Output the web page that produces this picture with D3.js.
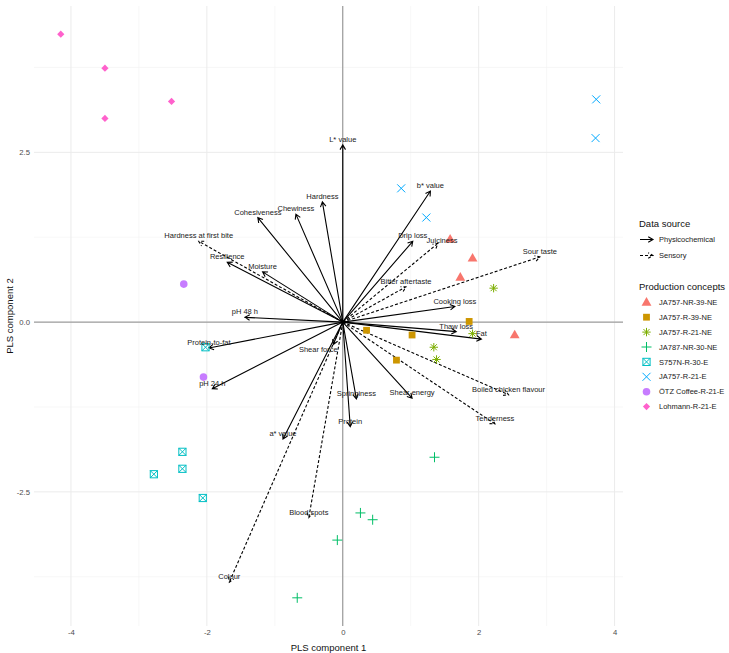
<!DOCTYPE html>
<html>
<head>
<meta charset="utf-8">
<script src="https://cdn.jsdelivr.net/npm/d3@7"></script>
<style>
  body { margin: 0; background: #fff; }
  svg text { font-family: "Liberation Sans", Arial, Helvetica, sans-serif; }
</style>
</head>
<body>
<div id="chart"></div>
<script>
// scores (production concepts)
const concepts = ["JA757-NR-39-NE", "JA757-R-39-NE", "JA757-R-21-NE", "JA787-NR-30-NE",
    "S757N-R-30-E", "JA757-R-21-E", "ÖTZ Coffee-R-21-E", "Lohmann-R-21-E"];
const conceptColours = ["#F8766D", "#CD9600", "#7CAE00", "#00BE67", "#00BFC4", "#00A9FF", "#C77CFF", "#FF61CC"];

const scoreGroup = [0, 0, 0, 0, 1, 1, 1, 1, 2, 2, 2, 2, 3, 3, 3, 3, 3,
    4, 4, 4, 4, 4, 5, 5, 5, 5, 6, 6, 7, 7, 7, 7];
const scoreX = [1.58, 1.91, 1.73, 2.53, 1.86, 1.02, 0.35, 0.79, 2.22, 1.91, 1.34, 1.38,
    1.35, 0.26, 0.44, -0.08, -0.67,
    -2.02, -2.36, -2.36, -2.78, -2.06, 0.86, 1.23, 3.73, 3.72, -2.34, -2.05,
    -4.15, -3.50, -2.52, -3.50];
const scoreY = [1.22, 0.94, 0.66, -0.19, 0.01, -0.19, -0.12, -0.56, 0.50, -0.17, -0.37, -0.55,
    -1.99, -2.81, -2.91, -3.21, -4.06,
    -0.37, -1.91, -2.16, -2.24, -2.59, 1.97, 1.54, 3.28, 2.71, 0.56, -0.81,
    4.24, 3.74, 3.25, 3.00];

// loadings (variables)
const sources = ["Physicochemical", "Sensory"];
const loadingName = ["L* value", "b* value", "Hardness", "Chewiness", "Cohesiveness", "Resilience",
    "Moisture", "pH 48 h", "Protein-to-fat", "pH 24 h", "Shear force", "Springiness", "Protein",
    "Shear energy", "Fat", "Thaw loss", "Cooking loss", "Drip loss", "a* value",
    "Hardness at first bite", "Juiciness", "Bitter aftertaste", "Sour taste",
    "Boiled chicken flavour", "Tenderness", "Blood spots", "Colour"];
const loadingX = [0.00, 1.29, -0.30, -0.69, -1.25, -1.70, -1.18, -1.44, -1.97, -1.92, -0.14, 0.20, 0.11,
    1.02, 2.04, 1.67, 1.65, 1.03, -0.88,
    -2.12, 1.40, 0.93, 2.90, 2.44, 2.24, -0.50, -1.67];
const loadingY = [2.61, 1.93, 1.77, 1.59, 1.54, 0.88, 0.74, 0.07, -0.38, -0.98, -0.33, -1.13, -1.54,
    -1.12, -0.25, -0.14, 0.23, 1.19, -1.72,
    1.19, 1.16, 0.52, 0.96, -1.07, -1.50, -2.88, -3.83];
const loadingSource = [0, 0, 0, 0, 0, 0, 0, 0, 0, 0, 0, 0, 0, 0, 0, 0, 0, 0, 0,
    1, 1, 1, 1, 1, 1, 1, 1];
const labelNudge = {"Shear force": [-0.22, -0.15], "Juiciness": [0.06, -0.03]};

const xTicks = [-4, -2, 0, 2, 4];
const xTickLabels = ["-4", "-2", "0", "2", "4"];
const yTicks = [-2.5, 0, 2.5];
const yTickLabels = ["-2.5", "0.0", "2.5"];

class PlsBiplot {

    constructor() {
        this.width = 729;
        this.height = 653;
        this.panel = {left: 34, right: 623, top: 6, bottom: 626};
        this.svg = d3.select('#chart')
            .append('svg')
            .attr('width', this.width)
            .attr('height', this.height);
        this.x = this.createScale(scoreX.concat(loadingX), [this.panel.left, this.panel.right]);
        this.y = this.createScale(scoreY.concat(loadingY), [this.panel.bottom, this.panel.top]);
    }

    // ggplot style 5% expansion
    createScale(values, range) {
        let ext = d3.extent(values);
        let pad = (ext[1] - ext[0]) * 0.05;
        return d3.scaleLinear().domain([ext[0] - pad, ext[1] + pad]).range(range);
    }

    draw() {
        this.drawGrid();
        this.drawAxes();
        this.drawArrows();
        this.drawPoints();
        this.drawLabels();
        this.drawLegend();
    }

    drawGrid() {
        let g = this.svg.append('g').attr('class', 'grid');
        let xMinor = d3.pairs(xTicks).map(p => (p[0] + p[1]) / 2);
        let yMinor = d3.pairs(yTicks).map(p => (p[0] + p[1]) / 2);
        let yStep = yTicks[1] - yTicks[0];
        yMinor.unshift(yTicks[0] - yStep / 2);
        yMinor.push(yTicks[yTicks.length - 1] + yStep / 2);
        let xd = this.x.domain();
        xMinor = xMinor.filter(v => v > xd[0] && v < xd[1]);

        g.selectAll('.vminor').data(xMinor).join('line')
            .attr('x1', d => this.x(d)).attr('x2', d => this.x(d))
            .attr('y1', this.panel.top).attr('y2', this.panel.bottom)
            .attr('stroke', '#f2f2f2').attr('stroke-width', 0.6);
        g.selectAll('.hminor').data(yMinor).join('line')
            .attr('y1', d => this.y(d)).attr('y2', d => this.y(d))
            .attr('x1', this.panel.left).attr('x2', this.panel.right)
            .attr('stroke', '#f2f2f2').attr('stroke-width', 0.6);
        g.selectAll('.vmajor').data(xTicks).join('line')
            .attr('x1', d => this.x(d)).attr('x2', d => this.x(d))
            .attr('y1', this.panel.top).attr('y2', this.panel.bottom)
            .attr('stroke', '#ebebeb').attr('stroke-width', 1);
        g.selectAll('.hmajor').data(yTicks).join('line')
            .attr('y1', d => this.y(d)).attr('y2', d => this.y(d))
            .attr('x1', this.panel.left).attr('x2', this.panel.right)
            .attr('stroke', '#ebebeb').attr('stroke-width', 1);

        // zero lines
        g.append('line')
            .attr('x1', this.panel.left).attr('x2', this.panel.right)
            .attr('y1', this.y(0)).attr('y2', this.y(0))
            .attr('stroke', '#8c8c8c').attr('stroke-width', 1);
        g.append('line')
            .attr('x1', this.x(0)).attr('x2', this.x(0))
            .attr('y1', this.panel.top).attr('y2', this.panel.bottom)
            .attr('stroke', '#8c8c8c').attr('stroke-width', 1);
    }

    drawAxes() {
        let xAxis = d3.axisBottom(this.x)
            .tickValues(xTicks)
            .tickFormat((d, i) => xTickLabels[i])
            .tickSize(0).tickPadding(4);
        let yAxis = d3.axisLeft(this.y)
            .tickValues(yTicks)
            .tickFormat((d, i) => yTickLabels[i])
            .tickSize(0).tickPadding(4);

        let gx = this.svg.append('g')
            .attr('transform', 'translate(0,' + this.panel.bottom + ')')
            .call(xAxis);
        let gy = this.svg.append('g')
            .attr('transform', 'translate(' + this.panel.left + ',0)')
            .call(yAxis);
        [gx, gy].forEach(g => {
            g.select('.domain').remove();
            g.selectAll('text')
                .attr('fill', '#4d4d4d')
                .style('font-size', '7.7px')
                .style('font-family', '"Liberation Sans", Arial, sans-serif');
        });

        this.svg.append('text')
            .attr('x', (this.panel.left + this.panel.right) / 2)
            .attr('y', 651)
            .attr('text-anchor', 'middle')
            .style('font-size', '9.5px')
            .attr('fill', '#111')
            .text('PLS component 1');
        this.svg.append('text')
            .attr('transform', 'translate(13,' + (this.panel.top + this.panel.bottom) / 2 + ') rotate(-90)')
            .attr('text-anchor', 'middle')
            .style('font-size', '9.5px')
            .attr('fill', '#111')
            .text('PLS component 2');
    }

    arrowPath(x0, y0, x1, y1) {
        let a = Math.atan2(y1 - y0, x1 - x0);
        let len = 5.5, spread = Math.PI / 6;
        let hx1 = x1 - len * Math.cos(a - spread), hy1 = y1 - len * Math.sin(a - spread);
        let hx2 = x1 - len * Math.cos(a + spread), hy2 = y1 - len * Math.sin(a + spread);
        return 'M' + x0 + ',' + y0 + 'L' + x1 + ',' + y1 +
            'M' + hx1 + ',' + hy1 + 'L' + x1 + ',' + y1 + 'L' + hx2 + ',' + hy2;
    }

    drawArrows() {
        let that = this;
        let g = this.svg.append('g').attr('class', 'loadings');
        g.selectAll('path').data(d3.range(loadingName.length)).join('path')
            .attr('d', i => that.arrowPath(that.x(0), that.y(0), that.x(loadingX[i]), that.y(loadingY[i])))
            .attr('fill', 'none')
            .attr('stroke', '#000')
            .attr('stroke-width', 1.1)
            .attr('stroke-dasharray', i => loadingSource[i] === 1 ? '3,2' : null);
    }

    drawLabels() {
        let that = this;
        let g = this.svg.append('g').attr('class', 'loading-labels');
        g.selectAll('text').data(d3.range(loadingName.length)).join('text')
            .attr('x', i => that.x(loadingX[i] + (labelNudge[loadingName[i]] || [0, 0])[0]))
            .attr('y', i => that.y(loadingY[i] + (labelNudge[loadingName[i]] || [0, 0])[1]) - 5.5)
            .attr('text-anchor', 'middle')
            .attr('dy', '0.35em')
            .style('font-size', '7.5px')
            .attr('fill', '#1a1a1a')
            .text(i => loadingName[i]);
    }

    drawShape(g, k, cx, cy) {
        let c = conceptColours[k];
        if (k === 0) {
            g.append('path').attr('d', d3.symbol(d3.symbolTriangle, 42)())
                .attr('transform', 'translate(' + cx + ',' + (cy + 0.5) + ')').attr('fill', c);
        } else if (k === 1) {
            g.append('rect').attr('x', cx - 3.4).attr('y', cy - 3.4)
                .attr('width', 6.8).attr('height', 6.8).attr('fill', c);
        } else if (k === 2) {
            let r = 4.2, q = r * 0.72;
            g.append('path')
                .attr('d', 'M' + (cx - r) + ',' + cy + 'H' + (cx + r) + 'M' + cx + ',' + (cy - r) + 'V' + (cy + r) +
                    'M' + (cx - q) + ',' + (cy - q) + 'L' + (cx + q) + ',' + (cy + q) +
                    'M' + (cx - q) + ',' + (cy + q) + 'L' + (cx + q) + ',' + (cy - q))
                .attr('stroke', c).attr('stroke-width', 1).attr('fill', 'none');
        } else if (k === 3) {
            let r = 5;
            g.append('path')
                .attr('d', 'M' + (cx - r) + ',' + cy + 'H' + (cx + r) + 'M' + cx + ',' + (cy - r) + 'V' + (cy + r))
                .attr('stroke', c).attr('stroke-width', 1).attr('fill', 'none');
        } else if (k === 4) {
            let r = 3.6;
            g.append('rect').attr('x', cx - r).attr('y', cy - r)
                .attr('width', 2 * r).attr('height', 2 * r)
                .attr('stroke', c).attr('stroke-width', 1).attr('fill', 'none');
            g.append('path')
                .attr('d', 'M' + (cx - r) + ',' + (cy - r) + 'L' + (cx + r) + ',' + (cy + r) +
                    'M' + (cx - r) + ',' + (cy + r) + 'L' + (cx + r) + ',' + (cy - r))
                .attr('stroke', c).attr('stroke-width', 1);
        } else if (k === 5) {
            let r = 4;
            g.append('path')
                .attr('d', 'M' + (cx - r) + ',' + (cy - r) + 'L' + (cx + r) + ',' + (cy + r) +
                    'M' + (cx - r) + ',' + (cy + r) + 'L' + (cx + r) + ',' + (cy - r))
                .attr('stroke', c).attr('stroke-width', 1).attr('fill', 'none');
        } else if (k === 6) {
            g.append('circle').attr('cx', cx).attr('cy', cy).attr('r', 3.8).attr('fill', c);
        } else {
            let r = 3.6;
            g.append('path')
                .attr('d', 'M' + cx + ',' + (cy - r) + 'L' + (cx + r) + ',' + cy + 'L' + cx + ',' + (cy + r) +
                    'L' + (cx - r) + ',' + cy + 'Z')
                .attr('fill', c);
        }
    }

    drawPoints() {
        let g = this.svg.append('g').attr('class', 'scores');
        for (let i = 0; i < scoreX.length; i++) {
            this.drawShape(g, scoreGroup[i], this.x(scoreX[i]), this.y(scoreY[i]));
        }
    }

    drawLegend() {
        let g = this.svg.append('g').attr('class', 'legend');
        let lx = 639;

        g.append('text').attr('x', lx).attr('y', 227)
            .style('font-size', '9.5px').attr('fill', '#111').text('Data source');
        sources.forEach((s, i) => {
            let yy = 239.5 + i * 16;
            g.append('path')
                .attr('d', this.arrowPath(lx + 1, yy, lx + 14, yy))
                .attr('fill', 'none').attr('stroke', '#000').attr('stroke-width', 1.1)
                .attr('stroke-dasharray', i === 1 ? '3,2' : null);
            g.append('text').attr('x', lx + 20).attr('y', yy).attr('dy', '0.35em')
                .style('font-size', '7.5px').attr('fill', '#1a1a1a').text(s);
        });

        g.append('text').attr('x', lx).attr('y', 289.5)
            .style('font-size', '9.5px').attr('fill', '#111').text('Production concepts');
        concepts.forEach((c, k) => {
            let yy = 302.3 + k * 14.9;
            this.drawShape(g, k, lx + 7.5, yy);
            g.append('text').attr('x', lx + 20).attr('y', yy).attr('dy', '0.35em')
                .style('font-size', '7.5px').attr('fill', '#1a1a1a').text(c);
        });
    }
}

let chart = new PlsBiplot();
chart.draw();
</script>
</body>
</html>
